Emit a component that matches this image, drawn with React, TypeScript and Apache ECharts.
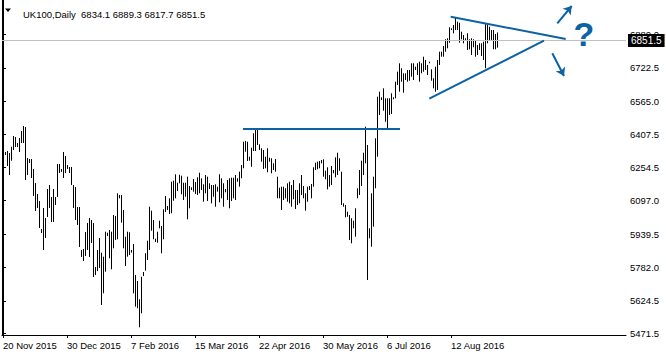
import React, { useEffect, useRef } from "react";
import * as echarts from "echarts";

const xLabels = ["20 Nov 2015", "30 Dec 2015", "7 Feb 2016", "15 Mar 2016", "22 Apr 2016", "30 May 2016", "6 Jul 2016", "12 Aug 2016"];
const xTickIdx = [0, 32, 64, 96, 128, 160, 192, 224];
const yTicks = [5471.5, 5624.5, 5782.0, 5939.5, 6097.0, 6254.5, 6407.5, 6565.0, 6722.5, 6880.0];
const lastPrice = 6851.5;
const titleText = "UK100,Daily\u00a0\u00a06834.1 6889.3 6817.7 6851.5";

const highs = [
  6368.4, 6326.0, 6330.7, 6321.3, 6351.0, 6401.4, 6396.7, 6368.4, 6392.0, 6425.0, 6448.6, 6443.9, 6297.7, 6293.0, 6293.0, 6245.9, 6179.9, 6128.1, 6095.1, 5963.1, 6062.1, 6015.0, 6151.6, 6170.5, 6113.9, 6151.6, 6113.9, 6269.5, 6269.5, 6245.9, 6326.0, 6307.2, 6264.8, 6255.3, 6255.3, 6170.5, 6161.1, 6066.8, 6066.8, 5864.2, 5868.9, 5949.0, 5991.4, 6015.0, 6005.5, 5991.4, 5784.1, 5864.2, 5920.7,
  5851.4, 5832.6, 5950.4, 5945.7, 5958.4, 5950.4, 6029.1, 6024.4, 6131.4, 6123.4, 6123.4, 6052.7, 5926.8, 5950.4, 5947.6, 5864.2, 5892.4, 5746.3, 5718.1, 5631.8, 5738.3, 5760.5, 5848.6, 5908.0, 6068.2, 6049.4, 6005.5, 5917.4, 5950.4, 6002.2, 5977.3, 6056.0, 6118.7, 6071.5, 6107.8, 6186.0, 6190.8, 6220.9, 6181.3, 6219.1, 6214.3, 6181.3, 6181.3, 6209.6, 6165.8, 6159.6, 6198.8, 6184.6, 6206.8, 6228.4,
  6202.1, 6173.8, 6217.6, 6209.6, 6178.5, 6170.5, 6170.5, 6173.8, 6162.5, 6220.9, 6202.1, 6178.5, 6151.6, 6194.1, 6202.1, 6204.9, 6204.9, 6217.6, 6202.1, 6233.2, 6264.8, 6374.6, 6377.9, 6374.6, 6303.9, 6346.3, 6414.2, 6434.4, 6434.4, 6362.3, 6343.5, 6335.4, 6303.9, 6343.5, 6299.2, 6296.3, 6272.8, 6293.0, 6209.6, 6157.8, 6162.5, 6162.5, 6154.9, 6178.5, 6186.0, 6170.5, 6194.1, 6146.9, 6146.9,
  6178.5, 6217.6, 6165.8, 6131.4, 6162.5, 6165.8, 6175.2, 6253.9, 6275.6, 6280.3, 6283.6, 6288.3, 6291.6, 6237.9, 6253.9, 6217.6, 6260.0, 6241.2, 6301.0, 6322.7, 6296.3, 6233.2, 6084.2, 6076.3, 6044.6, 6029.1, 6013.6, 6002.2, 6060.7, 6154.9, 6241.2, 6285.0, 6322.7, 6445.3, 6359.0, 5966.4, 6131.4, 6209.6, 6390.6, 6586.7, 6610.2, 6583.8, 6626.3, 6579.1, 6579.1, 6579.1, 6602.7, 6583.8, 6657.4,
  6704.5, 6744.1, 6720.5, 6697.0, 6697.0, 6712.5, 6712.5, 6744.1, 6744.1, 6728.0, 6744.1, 6751.6, 6744.1, 6775.2, 6759.6, 6736.1, 6751.6, 6715.8, 6673.4, 6728.0, 6759.6, 6798.7, 6798.7, 6825.6, 6857.2, 6861.9, 6913.7, 6909.0, 6924.6, 6960.9, 6940.1, 6935.4, 6893.0, 6877.4, 6861.9, 6885.5, 6857.2, 6861.9, 6857.2, 6850.6, 6830.3, 6838.3, 6838.3, 6845.9, 6932.6, 6932.6, 6916.6, 6901.0, 6901.0, 6882.2, 6889.3,
];

const lows = [
  6302.5, 6311.9, 6260.0, 6217.6, 6285.0, 6335.4, 6349.6, 6349.6, 6326.0, 6368.4, 6368.4, 6194.1, 6217.6, 6274.2, 6203.5, 6118.7, 6047.9, 6062.1, 5967.8, 5944.3, 5864.2, 5920.7, 6019.7, 6062.1, 5996.1, 5996.1, 6076.3, 6113.9, 6227.0, 6231.8, 6203.5, 6227.0, 6245.9, 6227.0, 6170.5, 6062.1, 6005.5, 5982.0, 5878.3, 5831.2, 5812.3, 5835.9, 5864.2, 5831.2, 5897.1, 5736.9, 5746.3, 5765.2, 5779.3,
  5604.9, 5660.1, 5761.9, 5930.1, 5825.0, 5773.2, 5872.1, 5911.3, 5914.6, 6107.8, 5992.8, 5872.1, 5788.8, 5832.6, 5840.6, 5851.4, 5660.1, 5596.9, 5589.4, 5499.8, 5565.8, 5741.6, 5766.6, 5817.0, 5864.2, 5955.1, 5914.6, 5901.8, 5898.6, 5966.4, 5848.6, 5914.6, 6043.2, 6052.7, 6033.8, 6037.1, 6096.5, 6107.8, 6142.2, 6178.5, 6126.7, 6099.8, 6115.3, 6008.8, 6060.7, 6146.9, 6138.9, 6128.1, 6123.4, 6131.4,
  6146.9, 6091.8, 6131.4, 6095.1, 6151.6, 6084.2, 6115.3, 6068.2, 6138.9, 6089.0, 6107.8, 6068.2, 6136.1, 6099.8, 6060.7, 6095.1, 6107.8, 6099.8, 6186.0, 6162.5, 6202.1, 6249.2, 6327.4, 6283.6, 6285.0, 6256.7, 6330.7, 6330.7, 6359.0, 6335.4, 6280.3, 6245.9, 6249.2, 6230.4, 6280.3, 6225.6, 6241.2, 6233.2, 6107.8, 6107.8, 6052.7, 6099.8, 6107.8, 6091.8, 6084.2, 6068.2, 6103.1, 6057.4, 6076.3,
  6084.2, 6123.4, 6107.8, 6049.4, 6091.8, 6146.9, 6107.8, 6162.5, 6241.2, 6244.5, 6249.2, 6272.8, 6209.6, 6197.4, 6150.2, 6162.5, 6170.5, 6225.6, 6206.8, 6217.6, 6237.9, 6076.3, 6068.2, 6018.3, 6021.1, 5911.3, 5895.7, 5966.4, 5926.8, 6107.8, 6123.4, 6165.8, 6217.6, 6272.8, 5722.8, 5919.3, 5879.7, 5974.0, 6154.9, 6303.9, 6500.4, 6571.1, 6520.7, 6468.8, 6429.7, 6500.4, 6505.1, 6574.4, 6579.1,
  6641.8, 6610.2, 6657.4, 6605.5, 6665.4, 6657.4, 6662.1, 6680.9, 6665.4, 6712.5, 6688.9, 6657.4, 6696.9, 6704.5, 6712.5, 6688.9, 6744.1, 6662.1, 6626.3, 6610.2, 6618.2, 6736.1, 6775.2, 6775.2, 6798.7, 6814.8, 6841.2, 6901.0, 6885.4, 6901.0, 6901.0, 6841.2, 6857.2, 6838.3, 6853.9, 6806.7, 6810.0, 6783.2, 6819.5, 6775.2, 6783.2, 6806.7, 6778.5, 6759.6, 6720.5, 6838.3, 6853.9, 6850.6, 6810.0, 6810.0, 6817.7,
];

// hand-drawn annotations, in (bar index, price) units
const resistanceLine = [[120, 6436], [198.5, 6436]];
const upperTrend = [[223.85, 6963.6], [281.35, 6858.5]];
const lowerTrend = [[213.15, 6577.2], [270.5, 6850.5]];
const upArrow = [[277.15, 6932.5], [284.35, 7014.1]];
const downArrow = [[274.65, 6791.1], [280.5, 6684.2]];
const questionAt = [290.5, 6884];

const BLUE = "#0b62a4";
const FONT = "Liberation Sans, Arial, sans-serif";

export default function App() {
  const ref = useRef<HTMLDivElement>(null);
  useEffect(() => {
    if (!ref.current) return;
    const chart = echarts.init(ref.current, null, { renderer: "svg" });
    const data = highs.map((h, i) => [i, h, lows[i]]);
    const seg = (pts: number[][], arrow = false, width = 2) => [
      { coord: pts[0], symbol: "none" },
      {
        coord: pts[1],
        symbol: arrow ? "arrow" : "none",
        symbolSize: arrow ? 8 : 0,
        lineStyle: { color: BLUE, width, type: "solid" },
        itemStyle: { color: BLUE },
      },
    ];
    chart.setOption({
      animation: false,
      backgroundColor: "#fff",
      textStyle: { fontFamily: FONT },
      title: {
        text: titleText,
        left: 18,
        top: 4,
        textStyle: { fontSize: 9.5, fontWeight: "normal", color: "#000", fontFamily: FONT },
      },
      graphic: [
        {
          type: "polygon",
          shape: { points: [[5, 8.5], [11, 8.5], [8, 12]] },
          style: { fill: "#000" },
        },
      ],
      grid: { left: 2, right: 40, top: 0, bottom: 21, containLabel: false },
      xAxis: {
        type: "value",
        min: -0.5,
        max: 311.5,
        splitLine: { show: false },
        axisLine: { show: true, lineStyle: { color: "#000", width: 1 } },
        axisTick: { show: true, customValues: xTickIdx, length: 3, lineStyle: { color: "#000" } },
        axisLabel: {
          customValues: xTickIdx,
          formatter: (v: number) => xLabels[Math.round(v / 32)] ?? "",
          align: "left",
          color: "#000",
          fontSize: 9.5,
          margin: 5,
          fontFamily: FONT,
        },
      },
      yAxis: [
        {
          type: "value",
          position: "right",
          min: 5463.5,
          max: 7042.4,
          splitLine: { show: false },
          axisLine: { show: true, lineStyle: { color: "#000", width: 1 } },
          axisTick: { show: true, customValues: yTicks, length: 3, lineStyle: { color: "#000" } },
          axisLabel: {
            customValues: yTicks,
            formatter: (v: number) => v.toFixed(1),
            color: "#000",
            fontSize: 9.5,
            margin: 4,
            fontFamily: FONT,
          },
        },
        {
          type: "value",
          position: "left",
          min: 5463.5,
          max: 7042.4,
          splitLine: { show: false },
          axisLine: { show: true, lineStyle: { color: "#000", width: 1 } },
          axisTick: { show: false },
          axisLabel: { show: false },
        },
      ],
      series: [
        {
          type: "custom",
          yAxisIndex: 0,
          data,
          encode: { x: 0, y: [1, 2] },
          renderItem: (params: any, api: any) => {
            const i = api.value(0);
            const hi = api.coord([i, api.value(1)]);
            const lo = api.coord([i, api.value(2)]);
            const x = Math.floor(hi[0]) + 0.5;
            let y1 = hi[1];
            let y2 = lo[1];
            if (y2 - y1 < 1) y2 = y1 + 1;
            return {
              type: "line",
              shape: { x1: x, y1, x2: x, y2 },
              style: { stroke: "#000", lineWidth: 1 },
            };
          },
          markLine: {
            silent: true,
            symbol: ["none", "none"],
            label: { show: false },
            data: [
              {
                yAxis: lastPrice,
                symbol: "none",
                lineStyle: { color: "#c0c0c0", width: 1, type: "solid" },
                label: {
                  show: true,
                  position: "end",
                  formatter: "6851.5",
                  color: "#fff",
                  backgroundColor: "#000",
                  padding: [2, 3, 1, 3],
                  distance: 2,
                  fontSize: 10,
                  fontFamily: FONT,
                },
              },
              seg(resistanceLine),
              seg(upperTrend),
              seg(lowerTrend),
              seg(upArrow, true),
              seg(downArrow, true),
            ],
          },
          markPoint: {
            silent: true,
            data: [
              {
                coord: questionAt,
                symbol: "circle",
                symbolSize: 1,
                itemStyle: { color: "rgba(0,0,0,0)" },
                label: {
                  show: true,
                  position: "inside",
                  formatter: "?",
                  color: BLUE,
                  fontSize: 34,
                  fontWeight: "bold",
                  fontFamily: FONT,
                },
              },
            ],
          },
        },
      ],
    });
    return () => chart.dispose();
  }, []);
  return (
    <div
      ref={ref}
      style={{ position: "fixed", left: 0, top: 0, width: 666, height: 356, background: "#fff" }}
    />
  );
}
